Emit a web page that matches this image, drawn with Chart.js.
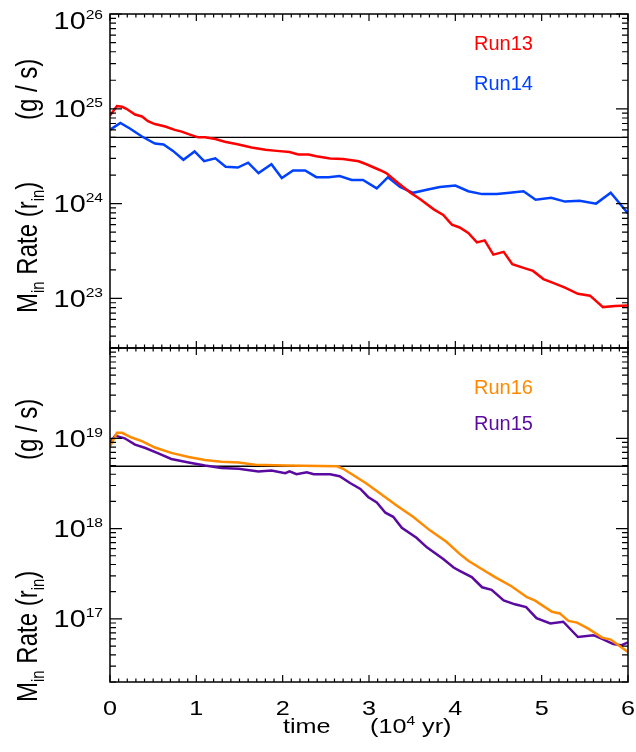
<!DOCTYPE html>
<html lang="en">
<head>
<meta charset="UTF-8">
<title>Mass inflow rate</title>
<script src="https://cdn.jsdelivr.net/npm/chart.js"></script>
<style>
  body { margin: 0; background: #fff; }
  .wrap { position: relative; width: 636px; height: 752px; }
  .wrap canvas { position: absolute; left: 0; top: 0; }
</style>
</head>
<body>
<div class="wrap">
  <canvas id="topPanel" width="636" height="752"></canvas>
  <canvas id="bottomPanel" width="636" height="752"></canvas>
</div>
<script>
// ---- data (time in 10^4 yr, rate in g/s) ----
const timeRun13 = [0.00, 0.08, 0.14, 0.19, 0.29, 0.37, 0.44, 0.52, 0.64, 0.75, 0.83, 0.91, 1.02, 1.10, 1.22, 1.33, 1.49, 1.64, 1.80, 1.93,
                   2.08, 2.18, 2.30, 2.39, 2.55, 2.70, 2.88, 2.97, 3.13, 3.20, 3.32, 3.48, 3.59, 3.75, 3.86, 3.96, 4.05, 4.15, 4.25, 4.34,
                   4.44, 4.56, 4.66, 4.79, 4.90, 5.02, 5.14, 5.27, 5.42, 5.56, 5.71, 5.85, 6.00];
const rateRun13 = [8.5e24, 1.07e25, 1.05e25, 1.0e25, 8.7e24, 8.3e24, 7.4e24, 6.9e24, 6.5e24, 6.0e24, 5.75e24, 5.4e24, 5.0e24, 5.0e24, 4.8e24, 4.5e24, 4.2e24, 3.9e24, 3.7e24, 3.6e24,
                   3.5e24, 3.3e24, 3.3e24, 3.16e24, 3.0e24, 2.95e24, 2.8e24, 2.6e24, 2.25e24, 2.1e24, 1.7e24, 1.3e24, 1.12e24, 8.7e23, 7.6e23, 6.0e23, 5.6e23, 4.9e23, 3.9e23, 4.1e23,
                   2.9e23, 3.1e23, 2.3e23, 2.1e23, 1.95e23, 1.6e23, 1.45e23, 1.3e23, 1.12e23, 1.07e23, 8.1e22, 8.3e22, 8.4e22];

const timeRun14 = [0.00, 0.12, 0.23, 0.37, 0.52, 0.62, 0.73, 0.85, 0.98, 1.09, 1.22, 1.34, 1.48, 1.60, 1.72, 1.87, 1.99, 2.12, 2.26, 2.39,
                   2.53, 2.66, 2.80, 2.93, 3.09, 3.22, 3.36, 3.51, 3.67, 3.82, 4.00, 4.15, 4.31, 4.48, 4.63, 4.79, 4.93, 5.11, 5.27, 5.44,
                   5.63, 5.80, 6.00];
const rateRun14 = [6.0e24, 7.1e24, 6.2e24, 5.1e24, 4.3e24, 4.2e24, 3.6e24, 2.9e24, 3.55e24, 2.8e24, 3.0e24, 2.45e24, 2.4e24, 2.7e24, 2.1e24, 2.6e24, 1.86e24, 2.24e24, 2.24e24, 1.9e24,
                   1.9e24, 1.95e24, 1.78e24, 1.78e24, 1.45e24, 1.9e24, 1.5e24, 1.3e24, 1.4e24, 1.5e24, 1.55e24, 1.35e24, 1.26e24, 1.26e24, 1.3e24, 1.35e24, 1.1e24, 1.15e24, 1.05e24, 1.07e24,
                   1.0e24, 1.3e24, 7.9e23];

const timeRun16 = [0.00, 0.08, 0.14, 0.25, 0.37, 0.52, 0.71, 0.91, 1.10, 1.29, 1.49, 1.68, 2.03, 2.63, 2.70, 2.82, 2.97, 3.13, 3.32, 3.51,
                   3.71, 3.90, 4.05, 4.15, 4.31, 4.46, 4.65, 4.83, 4.92, 5.12, 5.21, 5.31, 5.41, 5.54, 5.70, 5.80, 5.89, 6.00];
const rateRun16 = [8.1e18, 1.15e19, 1.15e19, 1.02e19, 9.3e18, 7.9e18, 6.9e18, 6.2e18, 5.75e18, 5.5e18, 5.4e18, 5.1e18, 5.0e18, 4.9e18, 4.6e18, 3.9e18, 3.16e18, 2.45e18, 1.8e18, 1.35e18,
                   9.5e17, 7.1e17, 5.25e17, 4.4e17, 3.55e17, 2.9e17, 2.3e17, 1.74e17, 1.6e17, 1.2e17, 1.15e17, 9.5e16, 9.1e16, 7.8e16, 6.2e16, 5.9e16, 5.1e16, 4.3e16];

const timeRun15 = [0.00, 0.06, 0.17, 0.29, 0.41, 0.56, 0.71, 0.91, 1.10, 1.29, 1.49, 1.72, 1.87, 2.03, 2.08, 2.16, 2.28, 2.36, 2.55, 2.66,
                   2.78, 2.90, 2.99, 3.09, 3.19, 3.28, 3.38, 3.55, 3.67, 3.86, 3.98, 4.05, 4.19, 4.31, 4.42, 4.56, 4.69, 4.82, 4.94, 5.10,
                   5.25, 5.42, 5.60, 5.70, 5.83, 5.92, 6.00];
const rateRun15 = [8.9e18, 1.07e19, 1.0e19, 8.5e18, 7.8e18, 6.8e18, 5.9e18, 5.4e18, 5.0e18, 4.7e18, 4.6e18, 4.3e18, 4.4e18, 4.1e18, 4.3e18, 4.0e18, 4.2e18, 4.0e18, 4.0e18, 3.8e18,
                   3.2e18, 2.75e18, 2.24e18, 1.95e18, 1.5e18, 1.35e18, 1.02e18, 7.9e17, 6.2e17, 4.6e17, 3.7e17, 3.4e17, 2.9e17, 2.24e17, 2.1e17, 1.6e17, 1.45e17, 1.35e17, 1.02e17, 8.9e16,
                   9.3e16, 6.3e16, 6.6e16, 6.0e16, 5.25e16, 5.1e16, 5.5e16];

const levelTop = 5.0e24;      // horizontal reference line, top panel
const levelBottom = 4.9e18;   // horizontal reference line, bottom panel
const xTickLabels = ['0', '1', '2', '3', '4', '5', '6'];
const topExponents = [23, 24, 25, 26];
const bottomExponents = [17, 18, 19];

// ---- drawing helpers ----
const FONT = "'Liberation Sans', Arial, Helvetica, sans-serif";
const SX = 1.2; // the original lettering is a bit wide

function runWidth(ctx, parts) {
  let w = 0;
  for (const p of parts) {
    ctx.font = p.size + 'px ' + FONT;
    w += ctx.measureText(p.text).width;
  }
  return w;
}

function drawRun(ctx, parts) {
  let x = 0;
  for (const p of parts) {
    ctx.font = p.size + 'px ' + FONT;
    ctx.fillText(p.text, x, p.dy || 0);
    x += ctx.measureText(p.text).width;
  }
}

function drawVertical(ctx, parts, xBase, yStart) {
  ctx.save();
  ctx.translate(xBase, yStart);
  ctx.rotate(-Math.PI / 2);
  ctx.scale(1, SX);
  drawRun(ctx, parts);
  ctx.restore();
}

const framePlugin = {
  id: 'frame',
  afterDatasetsDraw(chart, args, opts) {
    const { ctx, chartArea: a } = chart;
    const x = chart.scales.x, y = chart.scales.y;
    ctx.save();
    ctx.strokeStyle = '#000';
    ctx.fillStyle = '#000';

    // box
    ctx.lineWidth = 1.5;
    ctx.strokeRect(a.left, a.top, a.right - a.left, a.bottom - a.top);

    // inward ticks
    ctx.lineWidth = 1.2;
    ctx.beginPath();
    for (let i = 0; i <= 60; i++) {
      const px = x.getPixelForValue(i / 10);
      const len = i % 10 === 0 ? 7 : 3.5;
      ctx.moveTo(px, a.top); ctx.lineTo(px, a.top + len);
      ctx.moveTo(px, a.bottom); ctx.lineTo(px, a.bottom - len);
    }
    const lo = Math.floor(Math.log10(y.min)), hi = Math.ceil(Math.log10(y.max));
    for (let d = lo; d <= hi; d++) {
      for (let m = 1; m <= 9; m++) {
        const v = m * Math.pow(10, d);
        if (v < y.min * 0.999 || v > y.max * 1.001) continue;
        const py = y.getPixelForValue(v);
        const len = m === 1 ? 12 : 6;
        ctx.moveTo(a.left, py); ctx.lineTo(a.left + len, py);
        ctx.moveTo(a.right, py); ctx.lineTo(a.right - len, py);
      }
    }
    ctx.stroke();

    // y tick labels 10^n
    ctx.textAlign = 'left';
    ctx.textBaseline = 'alphabetic';
    for (const e of opts.exponents) {
      const py = y.getPixelForValue(Math.pow(10, e));
      const cy = Math.max(py, a.top + 6.5);
      const parts = [{ text: '10', size: 24, dy: 8.6 }, { text: String(e), size: 13, dy: -1.5 }];
      ctx.save();
      ctx.translate(103, cy);
      ctx.scale(SX, 1);
      ctx.translate(-runWidth(ctx, parts), 0);
      drawRun(ctx, parts);
      ctx.restore();
    }

    // y title
    const mParts = [
      { text: 'M', size: 24 }, { text: 'in', size: 15, dy: 6 },
      { text: ' Rate (r', size: 24 }, { text: 'in', size: 15, dy: 6 }, { text: ')', size: 24 }
    ];
    drawVertical(ctx, mParts, 37, opts.titleStart);
    drawVertical(ctx, [{ text: '(g / s)', size: 24 }], 37, opts.unitStart);

    // legend labels
    ctx.font = '20px ' + FONT;
    ctx.textBaseline = 'middle';
    opts.legend.forEach(l => {
      ctx.fillStyle = l.color;
      ctx.fillText(l.text, 474, l.y);
    });
    ctx.fillStyle = '#000';
    ctx.textBaseline = 'alphabetic';

    // x tick labels and title (bottom panel only)
    if (opts.xLabels) {
      xTickLabels.forEach(lbl => {
        const px = x.getPixelForValue(Number(lbl));
        ctx.save();
        ctx.translate(px, 714.5);
        ctx.scale(SX, 1);
        ctx.font = '21px ' + FONT;
        ctx.textAlign = 'center';
        ctx.fillText(lbl, 0, 0);
        ctx.restore();
      });
      ctx.textAlign = 'left';
      ctx.save();
      ctx.translate(283, 733);
      ctx.scale(SX, 1);
      drawRun(ctx, [{ text: 'time', size: 21 }]);
      ctx.restore();
      ctx.save();
      ctx.translate(370, 733);
      ctx.scale(SX, 1);
      drawRun(ctx, [{ text: '(10', size: 21 }, { text: '4', size: 13, dy: -8 }, { text: ' yr)', size: 21 }]);
      ctx.restore();
    }
    ctx.restore();
  }
};

function points(ts, vs) {
  return ts.map((t, i) => ({ x: t, y: vs[i] }));
}

function lineSet(data, color, width) {
  return { data: data, borderColor: color, borderWidth: width, pointRadius: 0, tension: 0, fill: false };
}

function makePanel(id, padding, yMin, yMax, datasets, frameOpts) {
  return new Chart(document.getElementById(id), {
    type: 'line',
    data: { datasets: datasets },
    options: {
      responsive: false,
      animation: false,
      events: [],
      layout: { padding: padding },
      plugins: { legend: { display: false }, tooltip: { enabled: false }, frame: frameOpts },
      scales: {
        x: { type: 'linear', min: 0, max: 6, display: false },
        y: { type: 'logarithmic', min: yMin, max: yMax, display: false }
      }
    },
    plugins: [framePlugin]
  });
}

makePanel('topPanel', { left: 110, right: 8, top: 14, bottom: 404 }, 3e22, 1e26, [
  lineSet(points(timeRun13, rateRun13), '#ff0000', 2.5),
  lineSet(points(timeRun14, rateRun14), '#0040ff', 2.5),
  lineSet([{ x: 0, y: levelTop }, { x: 6, y: levelTop }], '#000', 1.3)
], {
  exponents: topExponents, titleStart: 313, unitStart: 120, xLabels: false,
  legend: [{ text: 'Run13', color: '#ff0000', y: 44 }, { text: 'Run14', color: '#0040ff', y: 84 }]
});

makePanel('bottomPanel', { left: 110, right: 8, top: 348, bottom: 70 }, 2e16, 1e20, [
  lineSet(points(timeRun16, rateRun16), '#ff8a00', 2.5),
  lineSet(points(timeRun15, rateRun15), '#5a0aa0', 2.5),
  lineSet([{ x: 0, y: levelBottom }, { x: 6, y: levelBottom }], '#000', 1.3)
], {
  exponents: bottomExponents, titleStart: 702, unitStart: 460, xLabels: true,
  legend: [{ text: 'Run16', color: '#ff8a00', y: 388 }, { text: 'Run15', color: '#5a0aa0', y: 424 }]
});
</script>
</body>
</html>
